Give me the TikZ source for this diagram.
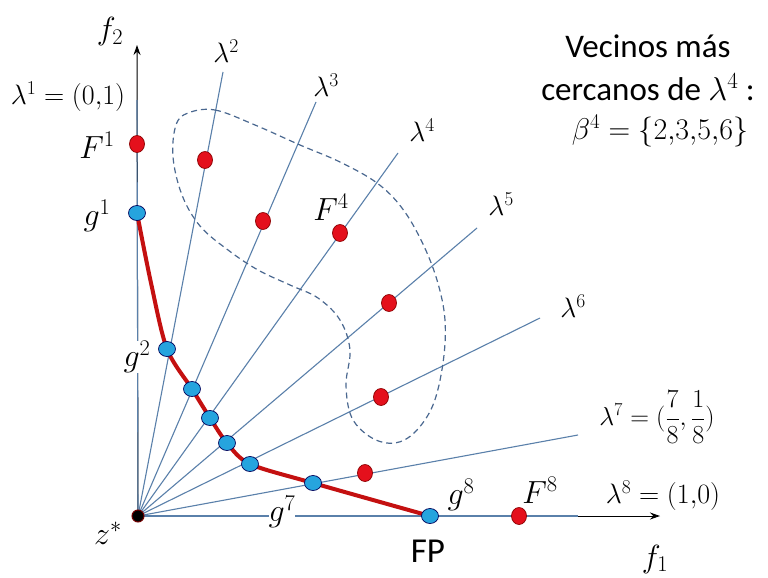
\RequirePackage{fix-cm}
\documentclass[tikz,border=0pt]{standalone}
\usepackage{fontspec}
\setmainfont{Carlito}
\usetikzlibrary{arrows.meta,shapes.geometric}
\definecolor{raycol}{HTML}{5A80AA}
\definecolor{redpt}{HTML}{E4101C}
\definecolor{redln}{HTML}{C41010}
\definecolor{bluept}{HTML}{26A4DE}
\definecolor{dashcol}{HTML}{4A6890}
\begin{document}
\begin{tikzpicture}[x=1pt,y=-1pt,
  ray/.style={raycol, line width=1.1pt},
  axis/.style={black, line width=1pt, -{Stealth[length=10pt,width=7pt]}},
  fdot/.style={ellipse, draw=red!55!black, fill=redpt, line width=0.7pt, minimum width=15pt, minimum height=17pt, inner sep=0pt},
  gdot/.style={ellipse, draw=blue!35!black, fill=bluept, line width=0.7pt, minimum width=17pt, minimum height=15pt, inner sep=0pt},
  lam/.style={font=\fontsize{28}{32}\selectfont, inner sep=1pt},
  big/.style={font=\fontsize{32}{36}\selectfont, inner sep=1pt},
  txt/.style={font=\fontsize{33}{38}\selectfont, inner sep=0pt}
]
\useasboundingbox (0,0) rectangle (768,578);
\fill[white] (0,0) rectangle (768,578);

% origin and ray end points
\coordinate (z) at (138,516);
\coordinate (e1) at (137,100);
\coordinate (e2) at (223,72);
\coordinate (e3) at (316,102);
\coordinate (e4) at (398,153);
\coordinate (e5) at (477,228);
\coordinate (e6) at (540,318);
\coordinate (e7) at (578,435);
\coordinate (e8) at (578,516);
\coordinate (ytip) at (137,45);
\coordinate (xtip) at (660,516);

% axes
\draw[axis] (z) -- (ytip);
\draw[axis] (z) -- (xtip);

% rays
\foreach \i in {1,...,8} \draw[ray] (z) -- (e\i);

% neighbourhood (dashed)
\draw[dashcol, line width=1.2pt, dash pattern=on 6pt off 4pt]
  plot[smooth cycle, tension=0.6] coordinates {
  (188,113) (215,110) (255,125) (300,145) (340,162) (377,183) (402,208)
  (422,242) (437,280) (445,320) (443,363) (433,405) (415,432) (395,443)
  (372,438) (352,418) (346,385) (350,350) (340,320) (318,298) (290,285)
  (258,270) (228,250) (200,226) (182,195) (173,157) (176,125)};

% points on the rays
\coordinate (pg1) at (137,213);
\coordinate (pg2) at (167,349);
\coordinate (pg3) at (192,389);
\coordinate (pg4) at (210,418);
\coordinate (pg5) at (227,443);
\coordinate (pg6) at (250,464);
\coordinate (pg7) at (313,483);
\coordinate (pg8) at (430,516);

% Pareto front approximation
\draw[redln, line width=4pt, line cap=round] plot[smooth, tension=0.5] coordinates {
  (pg1) (151,283) (pg2) (pg3) (pg4) (pg5) (pg6) (pg7) (pg8)};

% red points F
\node[fdot] (F1) at (137,144) {};
\node[fdot] (F2) at (205,160) {};
\node[fdot] (F3) at (263,221) {};
\node[fdot] (F4) at (340,233) {};
\node[fdot] (F5) at (389,303) {};
\node[fdot] (F6) at (381,397) {};
\node[fdot] (F7) at (365,473) {};
\node[fdot] (F8) at (519,516) {};

% blue points g
\foreach \i in {1,...,8} \node[gdot] (g\i) at (pg\i) {};

% ideal point
\node[circle, fill=black, draw=red!45!black, line width=1pt, minimum size=12pt, inner sep=0pt] (zs) at (z) {};

% axis labels
\node[big] (f2) at (110,32) {$f_2$};
\node[big] (f1) at (655,559) {$f_1$};

% ray labels
\node[lam] (l1) at (68,97) {$\lambda^1=(0{,}1)$};
\node[lam] (l2) at (226,51) {$\lambda^2$};
\node[lam] (l3) at (326,85) {$\lambda^3$};
\node[lam] (l4) at (422,130) {$\lambda^4$};
\node[lam] (l5) at (501,204) {$\lambda^5$};
\node[lam] (l6) at (573,306) {$\lambda^6$};
\node[font=\fontsize{26}{30}\selectfont, inner sep=1pt] (l7) at (657,417) {$\lambda^7=(\displaystyle\frac{7}{8},\frac{1}{8})$};
\node[lam] (l8) at (663,496) {$\lambda^8=(1{,}0)$};

% point labels
\node[big] (tF1) at (97,145) {$F^1$};
\node[big] (tg1) at (97,216) {$g^1$};
\node[big] (tF4) at (331,207) {$F^4$};
\node[big, fill=white, inner sep=0pt] (tg2) at (137,357) {$g^2$};
\node[big, fill=white, inner sep=0pt] (tg7) at (282,512) {$g^7$};
\node[big] (tz) at (108,533) {$z^*$};
\node[big] (tg8) at (461,495) {$g^8$};
\node[big] (tF8) at (540,490) {$F^8$};
\node[font=\fontsize{35}{40}\selectfont, inner sep=0pt] (FP) at (428,551) {FP};

% explanatory text
\node[txt] (v1) at (648,46) {Vecinos más};
\node[txt] (v2) at (648,87) {cercanos de $\lambda^4$ :};
\node[font=\fontsize{30}{34}\selectfont, inner sep=0pt] (v3) at (660,131) {$\beta^4=\{2{,}3{,}5{,}6\}$};
\end{tikzpicture}
\end{document}
